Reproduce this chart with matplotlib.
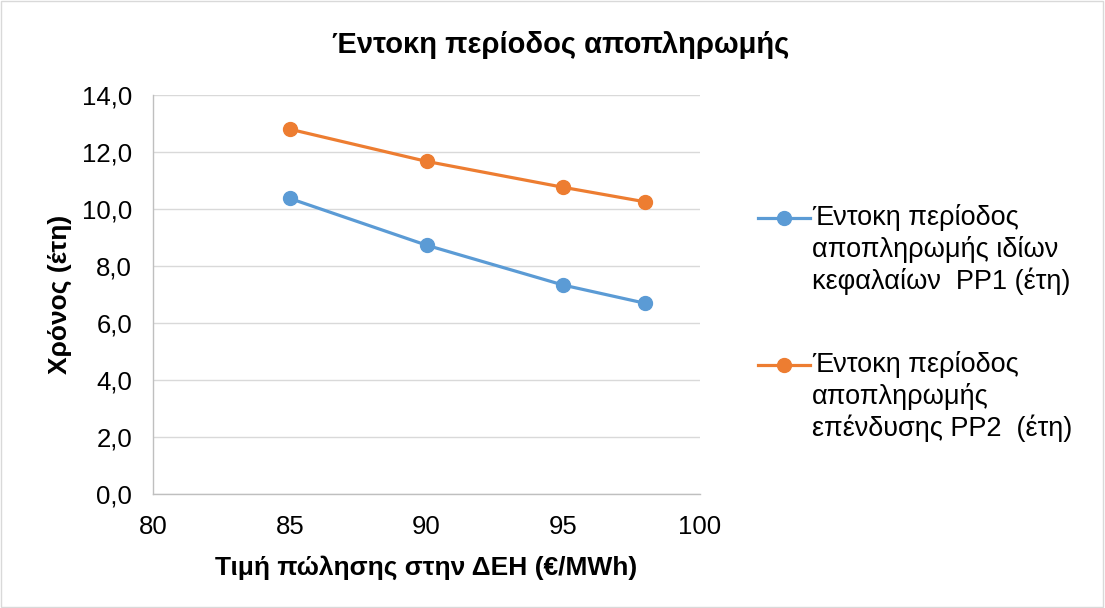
import matplotlib

matplotlib.use("Agg")

import matplotlib.pyplot as plt
from matplotlib.lines import Line2D
from matplotlib.patches import Rectangle
from matplotlib.ticker import FuncFormatter

plt.rcParams["font.family"] = ["Liberation Sans", "DejaVu Sans"]

PRICES = [85, 90, 95, 98]
PP1_YEARS = [10.37, 8.73, 7.33, 6.69]
PP2_YEARS = [12.80, 11.67, 10.76, 10.25]

PP1_LABEL = "Έντοκη περίοδος\nαποπληρωμής ιδίων\nκεφαλαίων  PP1 (έτη)"
PP2_LABEL = "Έντοκη περίοδος\nαποπληρωμής\nεπένδυσης PP2  (έτη)"
TITLE = "Έντοκη περίοδος αποπληρωμής"
X_LABEL = "Τιμή πώλησης στην ΔΕΗ (€/MWh)"
Y_LABEL = "Χρόνος (έτη)"

X_TICKS = [80, 85, 90, 95, 100]
Y_TICKS = [0, 2, 4, 6, 8, 10, 12, 14]

BLUE = "#5B9BD5"
ORANGE = "#ED7D31"
GRID_GREY = "#D9D9D9"
AXIS_GREY = "#BFBFBF"

LINE_W = 2.3
MARKER_SIZE = 10
LEGEND_SIZE = 19.5

fig = plt.figure(figsize=(11.05, 6.08), dpi=100)
ax = fig.add_axes([0.1385, 0.1875, 0.495, 0.6563])

ax.plot(PRICES, PP1_YEARS, color=BLUE, lw=LINE_W, marker="o", markersize=MARKER_SIZE, zorder=3)
ax.plot(PRICES, PP2_YEARS, color=ORANGE, lw=LINE_W, marker="o", markersize=MARKER_SIZE, zorder=3)

ax.set_xlim(80, 100)
ax.set_ylim(0, 14)
ax.set_xticks(X_TICKS)
ax.set_yticks(Y_TICKS)
ax.yaxis.set_major_formatter(FuncFormatter(lambda v, _: f"{v:.1f}".replace(".", ",")))
ax.tick_params(length=0, labelsize=18.5, colors="black")
ax.tick_params(axis="y", pad=15)
ax.tick_params(axis="x", pad=15)
ax.grid(axis="y", color=GRID_GREY, lw=1.0)
ax.set_axisbelow(True)
for side in ["top", "right"]:
    ax.spines[side].set_visible(False)
for side in ["left", "bottom"]:
    ax.spines[side].set_color(AXIS_GREY)
    ax.spines[side].set_linewidth(1.0)

ax.set_xlabel(X_LABEL, fontsize=19, fontweight="bold", labelpad=12)
ax.set_ylabel(Y_LABEL, fontsize=19, fontweight="bold", labelpad=7)
fig.text(0.507, 0.926, TITLE, fontsize=21, fontweight="bold", ha="center", va="center")

# legend drawn by hand so the swatch sits on the first text line, as in the source
entries = [(BLUE, PP1_LABEL, 1 - 218 / 608), (ORANGE, PP2_LABEL, 1 - 365 / 608)]
for color, label, y in entries:
    fig.add_artist(Line2D([758 / 1105, 810 / 1105], [y, y], color=color, lw=LINE_W,
                          transform=fig.transFigure))
    fig.add_artist(Line2D([784 / 1105], [y], color=color, marker="o", markersize=MARKER_SIZE,
                          transform=fig.transFigure))
    fig.text(812 / 1105, y + 14 / 608, label, fontsize=LEGEND_SIZE, ha="left", va="top",
             linespacing=1.22)

fig.patches.append(Rectangle((0.001, 0.002), 0.997, 0.996, transform=fig.transFigure,
                             fill=False, edgecolor="#D9D9D9", lw=1.0))

fig.savefig("out.png", dpi=100, facecolor="white")
